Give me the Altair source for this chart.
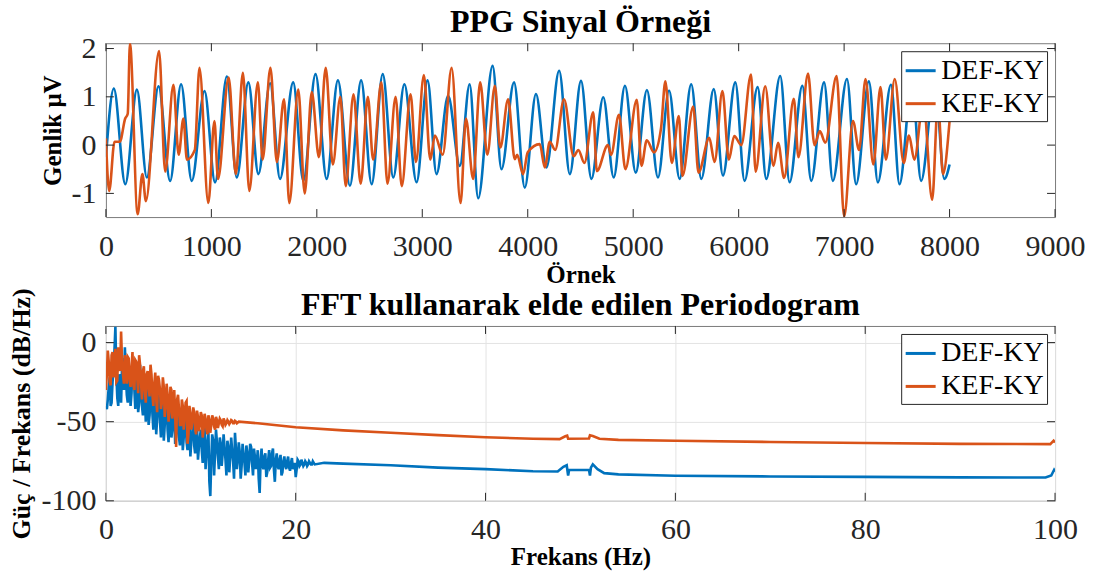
import altair as alt
import pandas as pd

FONT = "Liberation Serif"
AX = "#262626"
BOX = "#7a7a7a"
BLUE = "#0072BD"
ORANGE = "#D95319"
SERIES = ["DEF-KY", "KEF-KY"]

# ---------------- PPG signal (keypoints) ----------------
def_x = [0, 75, 184, 294, 388, 499, 609, 713, 814, 935, 1035, 1147, 1241, 1351, 1446, 1557,
         1651, 1776, 1872, 1988, 2093, 2200, 2314, 2420, 2520, 2625, 2725, 2830, 2946, 3050,
         3135, 3245, 3356, 3449, 3530, 3667, 3751, 3870, 3972, 4078, 4177, 4298, 4399, 4505,
         4604, 4716, 4815, 4922, 5024, 5130, 5235, 5340, 5440, 5550, 5646, 5764, 5851, 5968,
         6056, 6180, 6262, 6394, 6483, 6604, 6688, 6810, 6893, 7027, 7114, 7235, 7320, 7444,
         7525, 7643, 7730, 7860, 7951, 8000]
def_y = [-0.25, 1.17, -0.81, 1.15, -0.67, 1.22, -0.74, 1.26, -0.74, 1.12, -0.77, 1.42, -0.67,
         1.30, -0.60, 1.28, -0.70, 1.30, -0.74, 1.47, -0.70, 1.34, -0.84, 1.34, -0.81, 1.47,
         -0.67, 1.26, -0.77, 1.34, -0.60, 1.02, -0.43, 1.26, -1.10, 1.64, -0.50, 1.30, -0.88,
         1.06, -0.46, 1.54, -0.60, 1.33, -0.70, 0.99, -0.67, 1.23, -0.57, 1.14, -0.67, 1.13,
         -0.70, 1.26, -0.70, 1.16, -0.63, 1.30, -0.74, 1.20, -0.70, 1.43, -0.77, 1.23, -0.74,
         1.30, -0.74, 1.37, -0.81, 1.32, -0.77, 1.25, -0.81, 1.30, -0.74, 1.30, -0.70, -0.40]

kef_x = [0, 31, 82, 132, 183, 207, 228, 301, 346, 379, 504, 562, 640, 690, 735, 768, 843, 887,
         971, 1029, 1063, 1164, 1232, 1299, 1360, 1441, 1486, 1560, 1621, 1689, 1739, 1824,
         1885, 1952, 2020, 2084, 2152, 2223, 2274, 2348, 2416, 2484, 2534, 2612, 2670, 2747,
         2805, 2889, 2940, 3015, 3076, 3120, 3194, 3278, 3363, 3414, 3482, 3549, 3617, 3688,
         3740, 3814, 3877, 3900, 3956, 4000, 4114, 4162, 4209, 4260, 4344, 4435, 4480, 4537,
         4621, 4655, 4760, 4790, 4865, 4926, 5034, 5078, 5129, 5197, 5264, 5305, 5366, 5433,
         5467, 5569, 5619, 5721, 5772, 5846, 5907, 5958, 6025, 6117, 6161, 6252, 6330, 6374,
         6431, 6523, 6567, 6658, 6719, 6770, 6821, 6929, 7000, 7084, 7142, 7203, 7277, 7345,
         7396, 7480, 7565, 7615, 7666, 7751, 7835, 7890, 7937, 8000]
kef_y = [0.14, -0.95, 0.07, 0.07, 0.55, 0.65, 2.10, -1.43, -0.60, -1.16, 1.95, -0.55, 1.25,
         -0.20, 0.55, -0.30, -0.10, 1.60, -1.20, 0.50, -0.70, 1.40, -0.60, 1.50, -0.95, 1.30,
         -0.30, 1.60, -0.35, 0.95, -1.20, 1.15, -1.00, 1.10, -0.25, 1.60, -0.40, 1.00, -0.85,
         1.05, -0.80, 1.00, -0.30, 1.30, -0.80, 1.00, -0.85, 1.05, -0.35, 1.45, -0.30, 0.20,
         -0.20, 1.60, -1.20, 0.55, -0.70, 1.30, -0.20, 1.23, -0.05, 0.95, -0.29, -0.20, -0.60,
         -0.15, 0.02, -0.46, 0.07, -0.10, 0.95, -0.23, -0.10, -0.37, 0.68, -0.54, 0.00, -0.20,
         0.63, -0.50, 0.94, -0.43, 0.10, -0.15, 0.35, 1.32, -0.37, 0.60, -0.64, 0.80, -0.57,
         0.15, -0.35, 1.12, -0.30, 0.19, 0.00, 1.46, -0.55, 1.22, -0.43, 0.05, -0.68, 0.96,
         -0.25, 1.48, 0.00, 0.29, 0.05, 1.43, -1.48, 0.50, -0.10, 1.37, -0.40, 1.20, -0.30,
         1.37, -0.37, 0.20, -0.30, 0.90, -1.13, 0.90, -0.60, 0.50]

# ---------------- Periodogram ----------------
# noisy low-frequency part: readings every 0.2 Hz from 0 Hz ("even")
# and every 0.2 Hz from 0.1 Hz ("odd")
def_fft_even = [-40, -36, -22, -38, -18, 10, -35, -20, -38, -10, -3, -33, -15, -40, -12, -30,
                -18, -44, -14, -40, -22, -50, -20, -46, -26, -55, -25, -48, -30, -60, -33, -52,
                -36, -63, -38, -55, -42, -58, -44, -65, -45, -60, -47, -68, -48, -62, -50, -70,
                -52, -66, -55, -76, -54, -70, -56, -97, -58, -84, -55, -72, -60, -78, -58, -74,
                -62, -82, -60, -75, -57, -80, -63, -86, -64, -76, -65, -82, -64, -76, -67, -80,
                -68, -95, -67, -80, -70, -82, -68, -78, -67, -88, -70, -80, -71, -82, -72, -80,
                -72, -81, -73, -78, -85, -74, -78, -74, -78, -75, -78, -75, -77, -75, -77]
def_fft_odd = [-42, -28, -40, -25, -5, -20, -40, -25, -15, -30,
               -20, -38, -25, -32, -20, -42, -25, -38, -28, -46,
               -30, -42, -52, -33, -45, -35, -58, -38, -50, -40,
               -62, -44, -55, -46, -60, -48, -64, -50, -60, -52,
               -68, -55, -63, -56, -72, -57, -65, -58, -74, -60,
               -68, -60, -80, -62, -88, -75, -62, -70, -63, -80,
               -64, -70, -66, -84, -66, -72, -68, -86, -67, -74,
               -69, -78, -70, -84, -70, -75, -66, -84, -72, -76,
               -86, -74, -78, -72, -85, -74, -79, -70, -80, -74,
               -78, -74, -84, -75, -78, -75, -79, -76, -80, -76,
               -80, -75, -77, -76, -77, -76, -77, -76, -77, -76]
def_fft_tail_f = [23, 25, 30, 35, 40, 45, 47.6, 48.2, 48.55, 48.7, 48.8, 50.9, 51.0, 51.1, 51.3,
                  51.8, 52.5, 54, 60, 70, 80, 90, 99, 99.6, 99.9, 100]
def_fft_tail_v = [-76, -76.5, -77.5, -79, -80, -81.3, -81.5, -78.5, -77.5, -84, -80.5, -80.5,
                  -84, -79, -77, -80, -82.5, -83.3, -84.2, -84.6, -84.9, -85.2, -85.3, -84,
                  -80.5, -81.5]

kef_fft_even = [-30, -5, -25, -8, -22, -4, -24, -10, 7, -20, -8, -26, -10, -28, -6, -30, -12,
                -32, -14, -36, -15, -38, -18, -34, -20, -40, -19, -44, -24, -42, -22, -47, -26,
                -50, -28, -48, -30, -66, -33, -52, -36, -55, -38, -64, -40, -55, -41, -54, -43,
                -56, -44, -60, -45, -55, -46, -57, -46, -53, -47, -54, -48, -52, -48, -52, -49,
                -51.5, -49, -51, -49.5, -51, -50]
kef_fft_odd = [-20, -12, -27, -6, -15, -25, -3, -18, -12, -26,
               -14, -9, -24, -16, -27, -11, -22, -8, -25, -18,
               -30, -20, -28, -14, -33, -26, -36, -21, -30, -38,
               -28, -40, -33, -44, -30, -40, -46, -36, -42, -52,
               -40, -47, -37, -58, -45, -50, -44, -58, -47, -52,
               -46, -54, -48, -58, -49, -52, -48, -55, -49, -51,
               -49, -53, -49.5, -51, -50, -50.5, -49.5, -51, -50, -50.5]
kef_fft_tail_f = [16, 20, 25, 30, 35, 40, 45, 47.8, 48.4, 48.6, 48.7, 50.9, 51.0, 51.3, 52,
                  54, 60, 70, 80, 90, 99.5, 99.85, 100]
kef_fft_tail_v = [-51, -53.5, -55.5, -57, -58.5, -59.8, -60.8, -61, -59.2, -58.8, -60.8, -60.6,
                  -58.6, -59, -60.8, -61.5, -62, -62.8, -63.5, -64, -64.2, -62, -63.2]


def rows(xs, ys, name):
    return [{"x": a, "y": b, "s": name} for a, b in zip(xs, ys)]


def grid(n, start):
    return [round(start + i * 0.2, 1) for i in range(n)]


sig_df = pd.DataFrame(rows(def_x, def_y, SERIES[0]) + rows(kef_x, kef_y, SERIES[1]))

def_f = grid(len(def_fft_even), 0.0) + grid(len(def_fft_odd), 0.1) + def_fft_tail_f
def_v = def_fft_even + def_fft_odd + def_fft_tail_v
kef_f = grid(len(kef_fft_even), 0.0) + grid(len(kef_fft_odd), 0.1) + kef_fft_tail_f
kef_v = kef_fft_even + kef_fft_odd + kef_fft_tail_v
fft_df = pd.DataFrame(rows(def_f, def_v, SERIES[0]) + rows(kef_f, kef_v, SERIES[1]))
fft_df = fft_df.sort_values(["s", "x"], kind="stable").reset_index(drop=True)

LAB = "'' + datum.value"


def panel(df, W, H, xdom, ydom, xticks, yticks, xtitle, ytitle, title,
          xtitle_y, ytitle_x, ytitle_size, grid_on, interp):
    xs = alt.Scale(domain=xdom, nice=False, zero=False)
    ys = alt.Scale(domain=ydom, nice=False, zero=False)
    xaxis = alt.Axis(values=xticks, labelExpr=LAB, title=xtitle, titleFont=FONT,
                     titleFontSize=25, titleFontWeight="bold", titleColor="black",
                     titleY=xtitle_y, titleBaseline="alphabetic", labelFont=FONT,
                     labelFontSize=30, labelColor=AX, labelPadding=14, ticks=False,
                     domain=False, grid=grid_on, gridColor="#e3e3e3", gridWidth=1,
                     labelFlush=False, labelOverlap=False)
    yaxis = alt.Axis(values=yticks, labelExpr=LAB, title=ytitle, titleFont=FONT,
                     titleFontSize=ytitle_size, titleFontWeight="bold", titleColor="black",
                     titleX=ytitle_x, titleY=H / 2, titleAngle=270, titleAlign="center",
                     titleBaseline="alphabetic", labelFont=FONT, labelFontSize=30,
                     labelColor=AX, labelPadding=10, ticks=False, domain=False, grid=grid_on,
                     gridColor="#e3e3e3", gridWidth=1, labelFlush=False, labelOverlap=False)
    legend = alt.Legend(title=None, orient="top-right", offset=8, symbolType="stroke",
                        symbolSize=900, symbolStrokeWidth=3, labelFont=FONT,
                        labelFontSize=28, labelColor="black", strokeColor=AX,
                        fillColor="white", padding=3, rowPadding=2, labelOffset=4,
                        labelLimit=0)
    color = alt.Color("s:N", scale=alt.Scale(domain=SERIES, range=[BLUE, ORANGE]),
                      legend=legend)
    layers = []
    for name in SERIES:
        layers.append(
            alt.Chart(df).transform_filter(alt.datum.s == name)
            .mark_line(strokeWidth=2.6, clip=True, interpolate=interp)
            .encode(x=alt.X("x:Q", scale=xs, axis=xaxis),
                    y=alt.Y("y:Q", scale=ys, axis=yaxis),
                    color=color)
        )
    xt = pd.DataFrame({"x": xticks})
    yt = pd.DataFrame({"y": yticks})
    tl = 8
    rule = dict(color=AX, strokeWidth=1)
    layers += [
        alt.Chart(xt).mark_rule(**rule).encode(
            x=alt.X("x:Q", scale=xs, axis=xaxis), y=alt.value(H), y2=alt.value(H - tl)),
        alt.Chart(xt).mark_rule(**rule).encode(
            x=alt.X("x:Q", scale=xs, axis=xaxis), y=alt.value(0), y2=alt.value(tl)),
        alt.Chart(yt).mark_rule(**rule).encode(
            y=alt.Y("y:Q", scale=ys, axis=yaxis), x=alt.value(0), x2=alt.value(tl)),
        alt.Chart(yt).mark_rule(**rule).encode(
            y=alt.Y("y:Q", scale=ys, axis=yaxis), x=alt.value(W), x2=alt.value(W - tl)),
    ]
    # panel title as a text mark just above the plot area
    layers.append(
        alt.Chart(pd.DataFrame({"t": [title]})).mark_text(
            font=FONT, fontSize=32, fontWeight="bold", color="black",
            align="center", baseline="alphabetic")
        .encode(text="t:N", x=alt.value(W / 2), y=alt.value(-11))
    )
    return alt.layer(*layers).properties(width=W, height=H)


top = panel(sig_df, 950, 174, [0, 9000], [-1.49, 2.11],
            [0, 1000, 2000, 3000, 4000, 5000, 6000, 7000, 8000, 9000], [-1, 0, 1, 2],
            "Örnek", "Genlik μV", "PPG Sinyal Örneği", 65, -45, 25, False, "monotone")
bottom = panel(fft_df, 950, 175, [0, 100], [-100, 10.5],
               [0, 20, 40, 60, 80, 100], [-100, -50, 0],
               "Frekans (Hz)", "Güç / Frekans (dB/Hz)",
               "FFT kullanarak elde edilen Periodogram", 64, -76, 26, True, "linear")

chart = (
    alt.vconcat(top, bottom, spacing=109, bounds="flush")
    .resolve_scale(color="independent", x="independent", y="independent")
    .resolve_legend(color="independent")
    .properties(padding={"left": 8, "top": 5, "right": 8, "bottom": 6}, background="white")
    .configure_view(stroke=BOX, strokeWidth=1)
)

chart.save("out.html", embed_options={"renderer": "svg", "actions": False})
